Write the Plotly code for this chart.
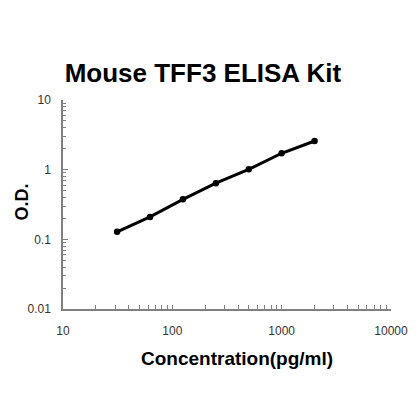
import plotly.graph_objects as go

# standard curve points
concentration = [31.25, 62.5, 125, 250, 500, 1000, 2000]
od = [0.128, 0.21, 0.375, 0.64, 1.01, 1.72, 2.58]

x_ticks = [10, 100, 1000, 10000]
x_labels = ["10", "100", "1000", "10000"]
y_ticks = [0.01, 0.1, 1, 10]
y_labels = ["0.01", "0.1", "1", "10"]

fig = go.Figure()
fig.add_trace(go.Scatter(
    x=concentration, y=od, mode="lines+markers",
    line=dict(color="black", width=3),
    marker=dict(color="black", size=6.5),
    showlegend=False))

axis_font = dict(family="Liberation Sans, Arial", size=12, color="#333333")
label_font = dict(family="Liberation Sans, Arial", size=19, color="black")

# the page body adds an 8px offset, so margins are shifted to compensate
fig.update_layout(
    width=420, height=420,
    margin=dict(l=55, r=37, t=92, b=119),
    paper_bgcolor="white", plot_bgcolor="white",
    title=dict(text="<b>Mouse TFF3 ELISA Kit</b>", x=0.464, xanchor="center",
               y=0.845, yanchor="middle",
               font=dict(family="Liberation Sans, Arial", size=26, color="black")),
    xaxis=dict(type="log", range=[1, 4], tickvals=x_ticks, ticktext=x_labels,
               automargin=False,
               showgrid=False, zeroline=False, showline=True, linecolor="#808080",
               linewidth=1.5, ticks="inside", ticklen=4, tickcolor="#808080",
               minor=dict(dtick="D1", ticks="inside", ticklen=4, tickcolor="#808080",
                          showgrid=False),
               tickfont=axis_font, ticklabelstandoff=10),
    yaxis=dict(type="log", range=[-2, 1], tickvals=y_ticks, ticktext=y_labels,
               automargin=False,
               showgrid=False, zeroline=False, showline=True, linecolor="#808080",
               linewidth=1.5, ticks="inside", ticklen=5, tickcolor="#808080",
               minor=dict(dtick="D1", ticks="inside", ticklen=3, tickcolor="#808080",
                          showgrid=False),
               tickfont=axis_font, ticklabelstandoff=8),
    annotations=[
        dict(text="<b>Concentration(pg/ml)</b>", xref="paper", yref="paper",
             x=0.5, y=0, xanchor="center", yanchor="middle",
             xshift=10, yshift=-49, showarrow=False, font=label_font),
        dict(text="<b>O.D.</b>", xref="paper", yref="paper",
             x=0, y=0.5, xanchor="center", yanchor="middle", textangle=-90,
             xshift=-42, yshift=2, showarrow=False,
             font=dict(family="Liberation Sans, Arial", size=18, color="black")),
    ],
)

fig.write_html("out.html")
